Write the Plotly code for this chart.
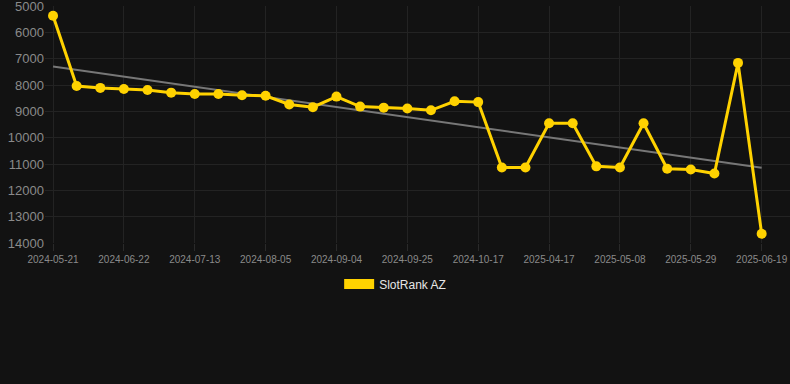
import numpy as np
import plotly.graph_objects as go

dates = ["2024-05-21", "2024-06-01", "2024-06-11", "2024-06-22", "2024-06-29", "2024-07-06",
         "2024-07-13", "2024-07-21", "2024-07-28", "2024-08-05", "2024-08-15", "2024-08-25",
         "2024-09-04", "2024-09-11", "2024-09-18", "2024-09-25", "2024-10-02", "2024-10-10",
         "2024-10-17", "2025-04-03", "2025-04-10", "2025-04-17", "2025-04-24", "2025-05-01",
         "2025-05-08", "2025-05-15", "2025-05-22", "2025-05-29", "2025-06-05", "2025-06-12",
         "2025-06-19"]
ranks = [5370, 8040, 8110, 8150, 8190, 8290, 8340, 8340, 8390, 8410, 8740, 8840,
         8440, 8820, 8860, 8890, 8960, 8620, 8650, 11130, 11130, 9450, 9450, 11090,
         11130, 9450, 11180, 11210, 11360, 7160, 13650]
tick_labels = dates[::3]
y_ticks = [5000, 6000, 7000, 8000, 9000, 10000, 11000, 12000, 13000, 14000]

idx = np.arange(len(ranks))
slope, intercept = np.polyfit(idx, ranks, 1)
trend = slope * idx + intercept

YELLOW = "#FFD200"

fig = go.Figure()
fig.add_trace(go.Scatter(x=dates, y=trend, mode="lines",
                         line=dict(color="#777777", width=2),
                         showlegend=False, hoverinfo="skip"))
fig.add_trace(go.Scatter(x=dates, y=ranks, mode="lines+markers",
                         line=dict(color=YELLOW, width=3),
                         marker=dict(color=YELLOW, size=10),
                         name="SlotRank AZ", showlegend=False, legendgroup="a"))
fig.add_trace(go.Scatter(x=[None], y=[None], mode="lines",
                         line=dict(color=YELLOW, width=12),
                         name="SlotRank AZ", showlegend=True, legendgroup="a"))

n = len(dates)
fig.update_layout(
    width=790, height=384, autosize=False,
    paper_bgcolor="#121212", plot_bgcolor="#121212",
    margin=dict(l=45, r=0, t=6, b=141, autoexpand=False),
    font=dict(family="Arial, Liberation Sans, sans-serif", color="#8a8a8a"),
    showlegend=True,
    legend=dict(orientation="h", x=0.47, xanchor="center",
                y=-0.173, yanchor="middle",
                font=dict(size=12, color="#e6e6e6"), bgcolor="rgba(0,0,0,0)"),
    xaxis=dict(type="category", range=[-0.34, n - 1 + 1.2], automargin=False,
               tickmode="array", tickvals=tick_labels, ticktext=tick_labels,
               tickangle=0,
               tickfont=dict(size=10, color="#8a8a8a"),
               showgrid=True, gridcolor="#232323", gridwidth=1,
               ticks="outside", ticklen=7, tickcolor="#2a2a2a",
               showline=False, zeroline=False),
    yaxis=dict(range=[14000, 4999.5], tickmode="array", tickvals=y_ticks,
               ticktext=[str(v) for v in y_ticks], automargin=False,
               ticklabeloverflow="allow",
               tickfont=dict(size=13, color="#8a8a8a"),
               showgrid=True, gridcolor="#232323", gridwidth=1,
               zeroline=False, showline=False, ticks=""),
)

fig.write_html("out.html", config={"displayModeBar": False},
               post_script="document.body.style.margin='0';document.body.style.background='#121212';")
